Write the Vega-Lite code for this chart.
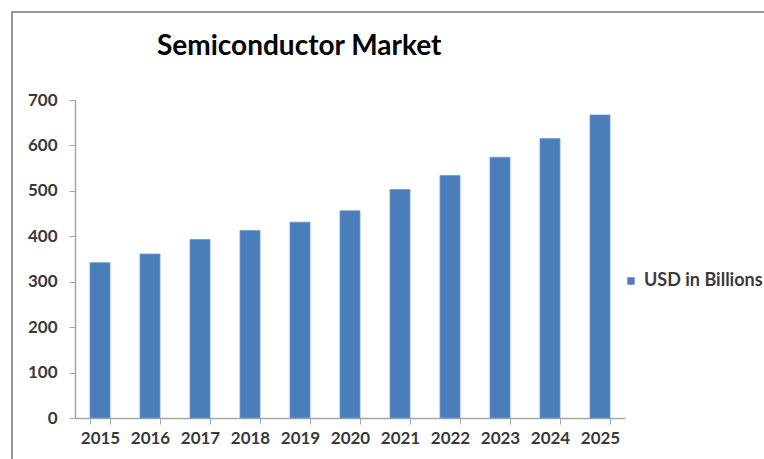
{
  "$schema": "https://vega.github.io/schema/vega-lite/v6.json",
  "width": 753,
  "height": 448,
  "autosize": {"type": "none"},
  "padding": {"left": 12, "top": 12, "right": 0, "bottom": 0},
  "background": "white",
  "title": {
    "text": "Semiconductor Market",
    "anchor": "start",
    "orient": "top",
    "frame": "group",
    "offset": 0,
    "baseline": "alphabetic",
    "dx": 145,
    "dy": 71,
    "font": "Lato",
    "fontSize": 28,
    "fontWeight": "bold",
    "color": "#000000"
  },
  "data": {
    "values": [
      {"year": "2015", "value": 342, "series": "USD in Billions"},
      {"year": "2016", "value": 361, "series": "USD in Billions"},
      {"year": "2017", "value": 393, "series": "USD in Billions"},
      {"year": "2018", "value": 413, "series": "USD in Billions"},
      {"year": "2019", "value": 431, "series": "USD in Billions"},
      {"year": "2020", "value": 456, "series": "USD in Billions"},
      {"year": "2021", "value": 503, "series": "USD in Billions"},
      {"year": "2022", "value": 534, "series": "USD in Billions"},
      {"year": "2023", "value": 574, "series": "USD in Billions"},
      {"year": "2024", "value": 615, "series": "USD in Billions"},
      {"year": "2025", "value": 667, "series": "USD in Billions"}
    ]
  },
  "mark": {"type": "bar", "stroke": "#6f97cc", "strokeWidth": 0.8},
  "encoding": {
    "x": {
      "field": "year",
      "type": "ordinal",
      "scale": {"range": [63, 613], "paddingInner": 0.6, "paddingOuter": 0.3},
      "axis": {
        "title": null,
        "orient": "bottom",
        "offset": -42,
        "labelAngle": 0,
        "tickBand": "extent",
        "tickSize": 6,
        "tickColor": "#a6a6a6",
        "domainColor": "#a6a6a6",
        "domainWidth": 1.5,
        "labelPadding": 6,
        "labelFont": "Lato",
        "labelFontSize": 17,
        "labelFontWeight": "bold",
        "labelColor": "#3a3a3a"
      }
    },
    "y": {
      "field": "value",
      "type": "quantitative",
      "scale": {"domain": [0, 700], "range": [406, 88], "nice": false},
      "axis": {
        "title": null,
        "orient": "left",
        "offset": -63,
        "values": [0, 100, 200, 300, 400, 500, 600, 700],
        "grid": false,
        "tickSize": 6,
        "tickColor": "#a6a6a6",
        "domainColor": "#a6a6a6",
        "domainWidth": 1.5,
        "labelPadding": 12,
        "labelFont": "Lato",
        "labelFontSize": 17,
        "labelFontWeight": "bold",
        "labelColor": "#3a3a3a"
      }
    },
    "color": {
      "field": "series",
      "type": "nominal",
      "scale": {"range": ["#4a7ebb"]},
      "legend": {
        "title": null,
        "orient": "none",
        "legendX": 610,
        "legendY": 260,
        "padding": 0,
        "symbolType": "square",
        "symbolSize": 55,
        "symbolStrokeWidth": 0,
        "labelOffset": 4,
        "labelFont": "Lato",
        "labelFontSize": 18,
        "labelFontWeight": "bold",
        "labelColor": "#3a3a3a",
        "labelLimit": 300
      }
    }
  },
  "config": {
    "view": {"stroke": "#777777", "strokeWidth": 1.5}
  }
}
